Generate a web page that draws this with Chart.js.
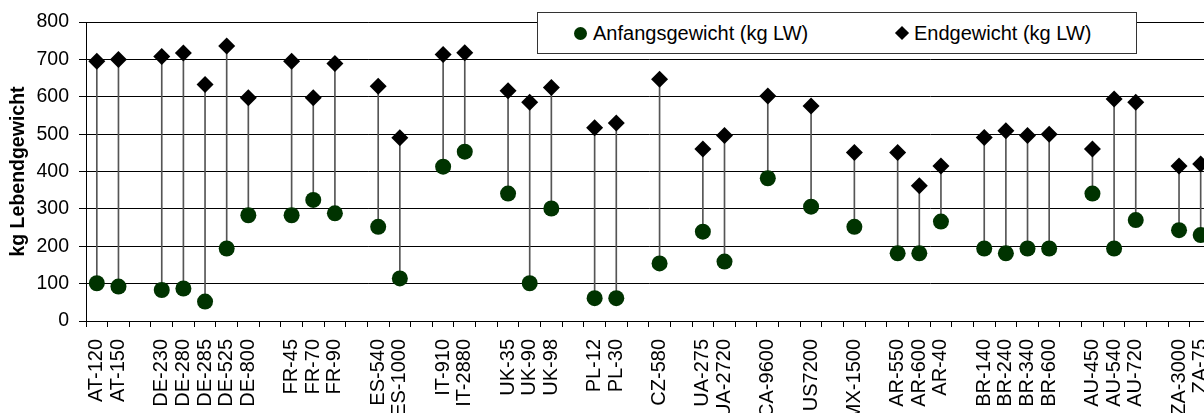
<!DOCTYPE html>
<html>
<head>
<meta charset="utf-8">
<script src="https://cdn.jsdelivr.net/npm/chart.js@4/dist/chart.umd.min.js"></script>
<style>
  html, body { margin: 0; padding: 0; background: #fff; overflow: hidden; }
  #wrap { position: relative; width: 1204px; height: 413px; overflow: hidden; }
  #box { position: absolute; left: 0; top: 0; width: 1220px; height: 413px; }
  #legende {
    position: absolute; left: 537px; top: 12px; width: 598px; height: 40px;
    border: 1px solid #333; background: #fff;
    font-family: "Liberation Sans", Arial, sans-serif; font-size: 20px; color: #000;
  }
  #legende .item { position: absolute; top: 0; height: 40px; line-height: 40px; white-space: nowrap; }
  #legende .kreis { position: absolute; width: 13px; height: 13px; border-radius: 50%; background: #003300; top: 14px; }
  #legende .raute { position: absolute; width: 10px; height: 10px; background: #000; transform: rotate(45deg); top: 15px; }
</style>
</head>
<body>
<div id="wrap">
  <div id="box"><canvas id="grafik"></canvas></div>
  <div id="legende">
    <div class="item" style="left:36px"><span class="kreis" style="left:0"></span><span style="margin-left:19px">Anfangsgewicht (kg LW)</span></div>
    <div class="item" style="left:357px"><span class="raute" style="left:2px"></span><span style="margin-left:19px">Endgewicht (kg LW)</span></div>
  </div>
</div>
<script>
// Kategorien (leere Einträge = Abstand zwischen Ländern)
const kategorien = ['AT-120', 'AT-150', '', 'DE-230', 'DE-280', 'DE-285', 'DE-525', 'DE-800', '',
  'FR-45', 'FR-70', 'FR-90', '', 'ES-540', 'ES-1000', '', 'IT-910', 'IT-2880', '',
  'UK-35', 'UK-90', 'UK-98', '', 'PL-12', 'PL-30', '', 'CZ-580', '', 'UA-275', 'UA-2720', '',
  'CA-9600', '', 'US7200', '', 'MX-1500', '', 'AR-550', 'AR-600', 'AR-40', '',
  'BR-140', 'BR-240', 'BR-340', 'BR-600', '', 'AU-450', 'AU-540', 'AU-720', '', 'ZA-3000', 'ZA-75'];

// Anfangsgewicht (kg LW)
const anfang = [101, 92, null, 83, 87, 52, 194, 283, null,
  283, 324, 288, null, 252, 114, null, 413, 453, null,
  341, 101, 301, null, 61, 61, null, 154, null, 239, 159, null,
  382, null, 306, null, 252, null, 181, 181, 266, null,
  194, 181, 194, 194, null, 341, 194, 270, null, 243, 230];

// Endgewicht (kg LW)
const ende = [695, 700, null, 708, 717, 633, 736, 597, null,
  695, 597, 689, null, 628, 490, null, 713, 718, null,
  616, 585, 625, null, 517, 530, null, 647, null, 460, 496, null,
  602, null, 575, null, 451, null, 451, 362, 415, null,
  491, 509, 496, 500, null, 460, 594, 585, null, 415, 420];

const yTicks = [0, 100, 200, 300, 400, 500, 600, 700, 800];

const schrift = "'Liberation Sans', Arial, sans-serif";

// Verbindungslinien als schwebende Balken
const linien = anfang.map((a, i) => (a == null || ende[i] == null) ? null : [a, ende[i]]);

new Chart(document.getElementById('grafik'), {
  type: 'bar',
  data: {
    labels: kategorien,
    datasets: [
      {
        type: 'bar',
        label: 'Linie',
        data: linien,
        backgroundColor: '#555',
        barThickness: 1,
        grouped: false,
        order: 3
      },
      {
        type: 'line',
        label: 'Anfangsgewicht (kg LW)',
        data: anfang,
        showLine: false,
        pointStyle: 'circle',
        pointRadius: 8,
        pointBorderWidth: 0,
        pointBackgroundColor: '#003300',
        order: 1
      },
      {
        type: 'line',
        label: 'Endgewicht (kg LW)',
        data: ende,
        showLine: false,
        pointStyle: 'rectRot',
        pointRadius: 8.5,
        pointBorderWidth: 0,
        pointBackgroundColor: '#000',
        order: 2
      }
    ]
  },
  options: {
    responsive: true,
    maintainAspectRatio: false,
    animation: false,
    layout: { padding: { top: 22, right: 5.5, left: 0, bottom: 0 } },
    plugins: { legend: { display: false }, tooltip: { enabled: false } },
    scales: {
      x: {
        type: 'category',
        offset: true,
        afterFit: s => { s.height = 92; s.paddingLeft = 0; s.paddingRight = 0; },
        grid: { offset: true, drawOnChartArea: false, color: '#000', tickLength: 6 },
        border: { color: '#000', width: 1 },
        ticks: {
          autoSkip: false, maxRotation: 90, minRotation: 90, padding: 12,
          color: '#000', font: { family: schrift, size: 20 }
        }
      },
      y: {
        min: 0, max: 800,
        afterFit: s => { s.width = 86; },
        afterBuildTicks: s => { s.ticks = yTicks.map(v => ({ value: v })); },
        grid: { color: '#000', tickLength: 7 },
        border: { color: '#000', width: 1 },
        ticks: { padding: 10, color: '#000', font: { family: schrift, size: 19.5 } },
        title: {
          display: true, text: 'kg Lebendgewicht', color: '#000',
          font: { family: schrift, size: 19.5, weight: 'bold' },
          padding: { top: 7, bottom: 0 }
        }
      }
    }
  }
});
</script>
</body>
</html>
